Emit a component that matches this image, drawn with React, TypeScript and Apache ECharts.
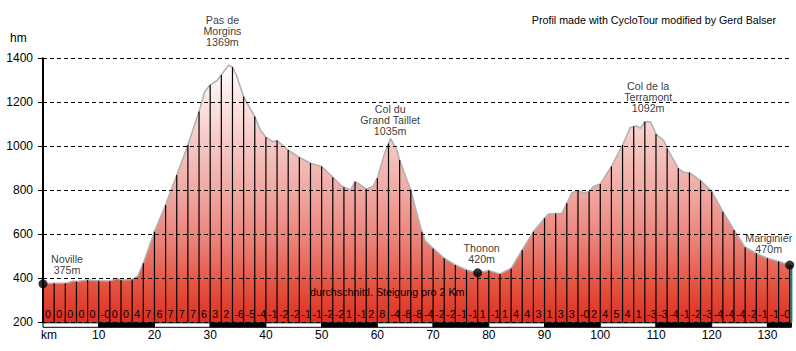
import React, { useEffect, useRef } from 'react';
import * as echarts from 'echarts';

// Elevation profile (km, metres)
const profileKm = [0, 2, 4, 5.5, 6, 8, 10, 12, 13.3, 14, 16, 17, 18, 20, 22, 24, 26, 28, 29, 30, 31.2, 32, 33.3, 34, 34.7, 36, 38, 39, 40, 41.3, 42, 44, 46, 48, 50, 52, 53.4, 54, 55.2, 56, 57, 58, 59.2, 60, 61.2, 62, 62.4, 63.5, 64, 65.3, 66, 67.1, 68, 68.6, 70, 72, 74, 76, 78, 80, 82, 84, 86, 88, 90, 90.7, 92, 93.1, 94, 94.9, 96, 97, 98, 98.8, 100, 102, 104, 105.4, 106, 106.6, 107.2, 108, 109, 110, 111.4, 112, 114, 115, 116, 118, 120, 122, 124, 126, 128, 130, 132, 134, 134.3];
const profileElev = [375, 377, 377, 388, 385, 392, 389, 388, 400, 392, 395, 410, 468, 612, 733, 870, 1006, 1158, 1248, 1279, 1298, 1324, 1369, 1360, 1324, 1226, 1135, 1074, 1041, 1021, 1026, 983, 950, 923, 908, 859, 824, 814, 802, 839, 824, 805, 817, 855, 961, 1012, 1035, 983, 938, 847, 802, 694, 612, 571, 536, 491, 461, 438, 424, 435, 420, 445, 529, 612, 673, 692, 695, 695, 741, 789, 798, 789, 794, 817, 829, 908, 1006, 1086, 1090, 1092, 1082, 1112, 1112, 1056, 1026, 991, 900, 882, 880, 844, 794, 703, 620, 541, 514, 491, 476, 461, 458];

// Average gradient per 2 km
const gradientLabels = ['0', '0', '0', '0', '0', '-0', '0', '0', '4', '7', '6', '7', '7', '7', '6', '3', '2', '-6', '-5', '-4', '-1', '-2', '-2', '-1', '-1', '-2', '-2', '1', '-1', '2', '8', '-4', '-8', '-8', '-4', '-2', '-2', '-1', '-1', '1', '-1', '1', '4', '4', '3', '1', '3', '3', '-0', '2', '4', '5', '4', '1', '-3', '-3', '-4', '-1', '-2', '-3', '-4', '-4', '-4', '-2', '-1', '-1', '-0'];

// Towns (dots)
const placeNames = ['Noville', 'Thonon', 'Mariginier'];
const placeAlt = [375, 420, 470];
const placeKm = [0, 78, 134];
const placeDotElev = [375, 425, 460];

// Passes
const passNames = ['Pas de\nMorgins', 'Col du\nGrand Taillet', 'Col de la\nTerramont'];
const passAlt = [1369, 1035, 1092];
const passKm = [32.2, 62.3, 108.6];

// Axis ticks
const yMin = 200;
const yMax = 1400;
const yStep = 200;
const xStep = 10;
const kmBarStarts = [0, 10, 20, 30, 40, 50, 60, 70, 80, 90, 100, 110, 120, 130];

const FONT = '"Liberation Sans", Arial, sans-serif';
const SMALL = 10.7;

export default function App() {
  const ref = useRef<HTMLDivElement>(null);

  useEffect(() => {
    if (!ref.current) return;
    const chart = echarts.init(ref.current, null, { renderer: 'svg' });
    const xMax = profileKm[profileKm.length - 1];
    const profile = profileKm.map((k, i) => [k, profileElev[i]]);
    const verticals = profile.filter((p) => p[0] > 0 && Number.isInteger(p[0]) && p[0] % 2 === 0);
    const endPoint = profile[profile.length - 1];

    const option: any = {
      animation: false,
      backgroundColor: '#ffffff',
      title: {
        text: 'Profil made with CycloTour modified by Gerd Balser',
        right: 15,
        top: 9,
        textStyle: { fontSize: SMALL, fontWeight: 'normal', color: '#000', fontFamily: FONT },
      },
      grid: { left: 43, right: 4.6, top: 58.3, bottom: 28.7 },
      xAxis: {
        type: 'value',
        min: 0,
        max: xMax,
        interval: xStep,
        axisLine: { show: false },
        axisTick: { show: false },
        splitLine: { show: false },
        axisLabel: {
          margin: 7,
          fontSize: 12,
          color: '#000',
          fontFamily: FONT,
          showMaxLabel: false,
          formatter: (v: number) => (v === 0 ? '{k|km}' : String(v)),
          rich: { k: { padding: [0, 0, 0, 12], fontSize: 12, color: '#000', fontFamily: FONT } },
        },
      },
      yAxis: {
        type: 'value',
        min: yMin,
        max: yMax,
        interval: yStep,
        z: 10,
        axisLine: { show: true, lineStyle: { color: '#000', width: 2 } },
        axisTick: { show: true, length: 5, lineStyle: { color: '#000' } },
        splitLine: { show: true, lineStyle: { color: '#000', type: [4, 3], width: 1 } },
        axisLabel: {
          margin: 10,
          fontSize: 12,
          color: '#000',
          fontFamily: FONT,
          formatter: (v: number) => String(v),
        },
      },
      graphic: [
        { type: 'text', left: 10, top: 32, style: { text: 'hm', fontSize: 12, fill: '#000', fontFamily: FONT } },
        { type: 'text', left: 310, top: 286, z: 20, style: { text: 'durchschnittl. Steigung pro 2 Km', fontSize: SMALL, fill: '#000', fontFamily: FONT } },
      ],
      series: [
        {
          type: 'line',
          data: profile,
          showSymbol: false,
          symbol: 'none',
          z: 1,
          lineStyle: { color: '#b0b0b0', width: 1.5 },
          areaStyle: {
            origin: 'start',
            opacity: 1,
            color: new echarts.graphic.LinearGradient(0, 0, 0, 1, [
              { offset: 0, color: '#ffffff' },
              { offset: 0.3, color: '#f6c8c4' },
              { offset: 0.5, color: '#f1a7a1' },
              { offset: 0.7, color: '#ea7e74' },
              { offset: 0.86, color: '#e4523f' },
              { offset: 1, color: '#df2e21' },
            ]),
          },
        },
        {
          type: 'custom',
          z: 3,
          data: verticals,
          renderItem: (params: any, api: any) => {
            const top = api.coord([api.value(0), api.value(1)]);
            const bot = api.coord([api.value(0), yMin]);
            return {
              type: 'line',
              shape: { x1: top[0], y1: top[1], x2: bot[0], y2: bot[1] },
              style: { stroke: '#000', lineWidth: 1.2 },
            };
          },
        },
        {
          type: 'custom',
          z: 3,
          data: [endPoint],
          renderItem: (params: any, api: any) => {
            const top = api.coord([api.value(0), api.value(1)]);
            const bot = api.coord([api.value(0), yMin]);
            return {
              type: 'line',
              shape: { x1: top[0], y1: top[1], x2: bot[0], y2: bot[1] },
              style: { stroke: '#008b8b', lineWidth: 2 },
            };
          },
        },
        {
          type: 'custom',
          z: 5,
          clip: false,
          data: gradientLabels.map((_, i) => [i * 2, yMin]),
          renderItem: (params: any, api: any) => {
            const p = api.coord([api.value(0), yMin]);
            return {
              type: 'text',
              x: p[0] + 2,
              y: p[1] - 8,
              style: {
                text: gradientLabels[params.dataIndex],
                fill: '#000',
                font: SMALL + 'px ' + FONT,
                align: 'left',
                verticalAlign: 'middle',
                textAlign: 'left',
                textVerticalAlign: 'middle',
              },
            };
          },
        },
        {
          type: 'custom',
          z: 5,
          clip: false,
          data: kmBarStarts.map((s) => [s, Math.min(s + xStep, xMax)]),
          renderItem: (params: any, api: any) => {
            const p0 = api.coord([api.value(0), yMin]);
            const p1 = api.coord([api.value(1), yMin]);
            const odd = params.dataIndex % 2 === 1;
            return {
              type: 'rect',
              shape: { x: p0[0], y: p0[1] + 0.5, width: p1[0] - p0[0], height: 4.5 },
              style: { fill: odd ? '#000' : '#fff', stroke: '#000', lineWidth: 1 },
            };
          },
        },
        {
          type: 'scatter',
          z: 6,
          symbolSize: 9,
          itemStyle: { color: '#000' },
          data: placeNames.map((n, i) => ({
            value: [placeKm[i], placeDotElev[i]],
            label: {
              offset: [[24, 0], [4, 0], [-21, 0]][i],
              distance: [4, 4, 6][i],
            },
          })),
          label: {
            show: true,
            position: 'top',
            fontSize: SMALL,
            lineHeight: 11,
            color: '#000',
            fontFamily: FONT,
            align: 'center',
            formatter: (p: any) => placeNames[p.dataIndex] + '\n' + placeAlt[p.dataIndex] + 'm',
          },
        },
        {
          type: 'scatter',
          z: 6,
          symbolSize: 1,
          itemStyle: { color: 'rgba(0,0,0,0)' },
          data: passNames.map((n, i) => ({
            value: [passKm[i], passAlt[i]],
            label: { distance: [17, 2, 12][i] },
          })),
          label: {
            show: true,
            position: 'top',
            fontSize: SMALL,
            lineHeight: 11,
            color: '#000',
            fontFamily: FONT,
            align: 'center',
            formatter: (p: any) => passNames[p.dataIndex] + '\n' + passAlt[p.dataIndex] + 'm',
          },
        },
      ],
    };
    chart.setOption(option);
    return () => chart.dispose();
  }, []);

  return (
    <div
      ref={ref}
      style={{ position: 'fixed', left: 0, top: 0, width: 796, height: 351, background: '#fff' }}
    />
  );
}
